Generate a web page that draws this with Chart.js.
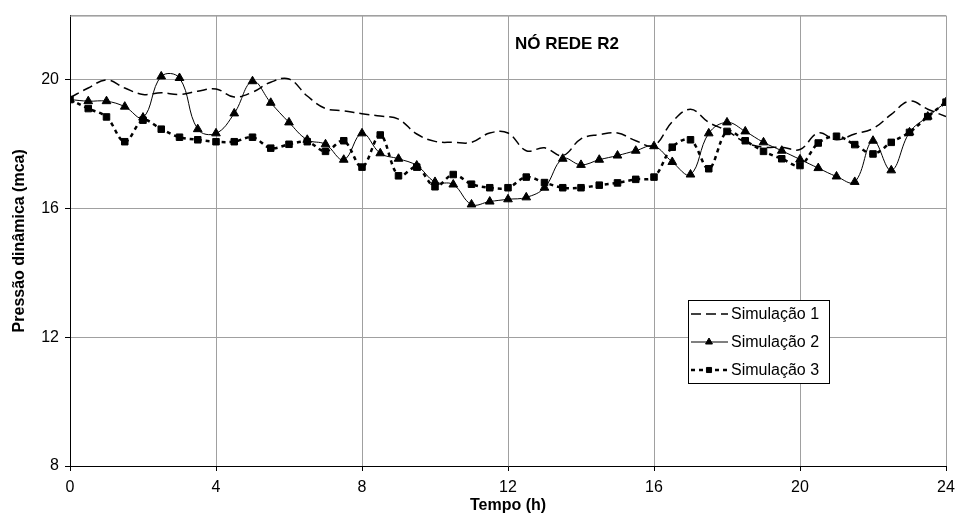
<!DOCTYPE html>
<html>
<head>
<meta charset="utf-8">
<script src="https://cdn.jsdelivr.net/npm/chart.js@4.4.0/dist/chart.umd.min.js"></script>
<style>
  body { margin: 0; background: #fff; }
  #wrap { width: 958px; height: 517px; position: relative; }
</style>
</head>
<body>
<div id="wrap"><canvas id="pressureChart"></canvas></div>
<script>
const hours = [0, 0.5, 1, 1.5, 2, 2.5, 3, 3.5, 4, 4.5, 5, 5.5, 6, 6.5, 7, 7.5, 8, 8.5, 9, 9.5,
  10, 10.5, 11, 11.5, 12, 12.5, 13, 13.5, 14, 14.5, 15, 15.5, 16, 16.5, 17, 17.5, 18, 18.5,
  19, 19.5, 20, 20.5, 21, 21.5, 22, 22.5, 23, 23.5, 24];

const sim1 = [19.45, 19.75, 20.0, 19.75, 19.55, 19.6, 19.55, 19.65, 19.72, 19.47, 19.62, 19.93,
  20.03, 19.5, 19.11, 19.04, 18.95, 18.88, 18.78, 18.32, 18.09, 18.06, 18.06, 18.35, 18.35,
  17.8, 17.89, 17.65, 18.17, 18.3, 18.35, 18.11, 17.96, 18.7, 19.09, 18.68, 18.42, 18.06,
  17.91, 17.91, 17.84, 18.35, 18.14, 18.32, 18.49, 18.93, 19.34, 19.09, 18.86];

const sim2 = [19.39, 19.34, 19.34, 19.17, 18.83, 20.11, 20.06, 18.47, 18.34, 18.96, 19.96, 19.29,
  18.68, 18.14, 18.0, 17.52, 18.34, 17.72, 17.55, 17.34, 16.83, 16.75, 16.13, 16.22, 16.29,
  16.35, 16.65, 17.55, 17.36, 17.52, 17.65, 17.8, 17.94, 17.45, 17.06, 18.34, 18.68, 18.4,
  18.06, 17.8, 17.53, 17.26, 17.0, 16.83, 18.11, 17.19, 18.37, 18.86, 19.31];

const sim3 = [19.39, 19.11, 18.85, 18.08, 18.75, 18.47, 18.22, 18.14, 18.08, 18.08, 18.22, 17.88,
  18.0, 18.08, 17.78, 18.11, 17.29, 18.29, 17.02, 17.29, 16.68, 17.06, 16.76, 16.65, 16.65,
  16.98, 16.81, 16.65, 16.65, 16.73, 16.8, 16.91, 16.98, 17.91, 18.14, 17.24, 18.4, 18.11,
  17.78, 17.55, 17.34, 18.04, 18.25, 17.99, 17.7, 18.06, 18.37, 18.86, 19.31];

const seriesNames = ["Simulação 1", "Simulação 2", "Simulação 3"];
const chartTitle = "NÓ REDE R2";

const font = "'Liberation Sans', Arial, sans-serif";

const toPoints = (values) => hours.map((h, i) => ({ x: h, y: values[i] }));

// gray top edge of the plot + title inside it
const framePlugin = {
  id: "frame",
  beforeDatasetsDraw(chart) {
    const { ctx, chartArea: a } = chart;
    ctx.save();
    ctx.strokeStyle = "#a0a0a0";
    ctx.lineWidth = 1;
    ctx.beginPath();
    ctx.moveTo(a.left, a.top + 0.5);
    ctx.lineTo(a.right, a.top + 0.5);
    ctx.stroke();
    ctx.restore();
  },
  afterDraw(chart) {
    const { ctx, chartArea: a } = chart;
    ctx.save();
    ctx.fillStyle = "#000";
    ctx.font = "bold 17px " + font;
    ctx.textBaseline = "middle";
    ctx.fillText(chartTitle, a.left + 0.508 * (a.right - a.left), 44);
    ctx.restore();
  },
};

// legend box drawn inside the plot, like the original
const boxLegend = {
  id: "boxLegend",
  afterDraw(chart) {
    const { ctx } = chart;
    const x0 = 688, y0 = 300, w = 141, h = 83;
    ctx.save();
    ctx.fillStyle = "#fff";
    ctx.fillRect(x0, y0, w, h);
    ctx.strokeStyle = "#000";
    ctx.lineWidth = 1;
    ctx.strokeRect(x0 + 0.5, y0 + 0.5, w, h);
    const rows = [314, 342, 370];
    chart.data.datasets.forEach((ds, i) => {
      const y = rows[i];
      ctx.save();
      ctx.strokeStyle = "#000";
      ctx.lineWidth = ds.borderWidth;
      ctx.setLineDash(ds.borderDash || []);
      ctx.beginPath();
      ctx.moveTo(x0 + 3, y);
      ctx.lineTo(x0 + 40, y);
      ctx.stroke();
      ctx.restore();
      if (ds.pointRadius > 0) {
        ctx.fillStyle = "#000";
        ctx.strokeStyle = "#000";
        Chart.helpers.drawPoint(ctx, {
          pointStyle: ds.pointStyle,
          radius: ds.pointRadius - 1,
          rotation: 0,
          borderWidth: 1,
        }, x0 + 21, y);
      }
      ctx.fillStyle = "#000";
      ctx.font = "16px " + font;
      ctx.textBaseline = "middle";
      ctx.fillText(ds.label, x0 + 43, y + 1);
    });
    ctx.restore();
  },
};

new Chart(document.getElementById("pressureChart").getContext("2d"), {
  type: "line",
  data: {
    datasets: [
      {
        label: seriesNames[0],
        data: toPoints(sim1),
        borderColor: "#000",
        borderWidth: 1.5,
        borderDash: [10, 5],
        pointRadius: 0,
        tension: 0.4,
        fill: false,
      },
      {
        label: seriesNames[1],
        data: toPoints(sim2),
        borderColor: "#000",
        backgroundColor: "#000",
        borderWidth: 1,
        pointStyle: "triangle",
        pointRadius: 5,
        tension: 0.4,
        fill: false,
      },
      {
        label: seriesNames[2],
        data: toPoints(sim3),
        borderColor: "#000",
        backgroundColor: "#000",
        borderWidth: 2.5,
        borderDash: [4, 4],
        pointStyle: "rect",
        pointRadius: 4.6,
        pointBorderWidth: 1,
        tension: 0.35,
        fill: false,
      },
    ],
  },
  options: {
    responsive: true,
    maintainAspectRatio: false,
    animation: false,
    layout: { padding: { top: 12, right: 12, left: 0, bottom: 0 } },
    plugins: {
      legend: { display: false },
      tooltip: { enabled: false },
    },
    scales: {
      x: {
        type: "linear",
        min: 0,
        max: 24,
        afterFit: (s) => {
          s.height = 51;
          s.paddingLeft = 0;
          s.paddingRight = 0;
        },
        ticks: { stepSize: 4, color: "#000", padding: 7, font: { family: font, size: 16 } },
        grid: { color: "#a0a0a0", tickColor: "#000", tickLength: 5 },
        border: { color: "#000", width: 1 },
        title: {
          display: true,
          text: "Tempo (h)",
          color: "#000",
          font: { family: font, size: 16, weight: "bold" },
          padding: { top: 0, bottom: 2 },
        },
      },
      y: {
        min: 8,
        max: 22,
        afterFit: (s) => { s.width = 70; },
        ticks: {
          stepSize: 4,
          color: "#000",
          padding: 6,
          font: { family: font, size: 16 },
          callback: (v) => (v === 22 ? "" : v),
        },
        grid: {
          color: "#a0a0a0",
          tickColor: (c) => (c.tick && c.tick.value === 22 ? "rgba(0,0,0,0)" : "#000"),
          tickLength: 5,
        },
        border: { color: "#000", width: 1 },
        title: {
          display: true,
          text: "Pressão dinâmica (mca)",
          color: "#000",
          font: { family: font, size: 16, weight: "bold" },
          padding: { top: 10, bottom: 0 },
        },
      },
    },
  },
  plugins: [framePlugin, boxLegend],
});
</script>
</body>
</html>
